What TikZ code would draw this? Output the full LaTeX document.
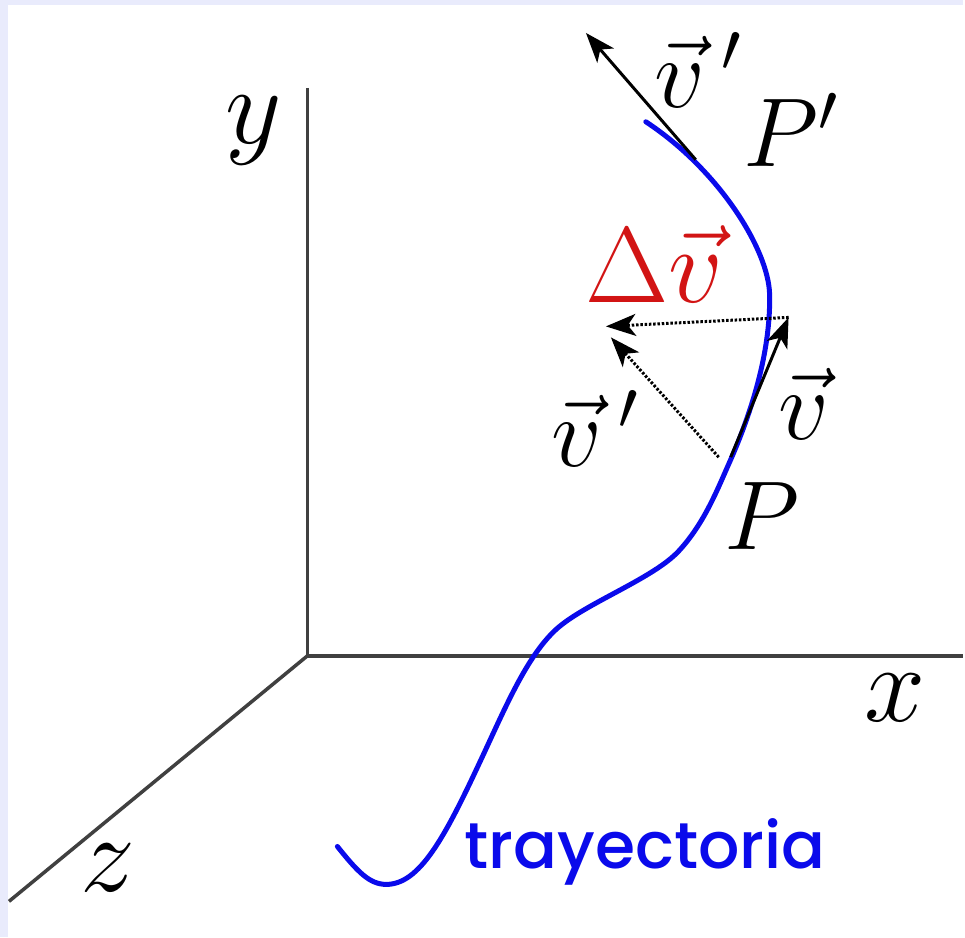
\RequirePackage{fix-cm}
\documentclass[tikz,border=0pt]{standalone}
\usepackage{amsmath}
\usepackage{fontspec}
\usepackage{tikz}
\usetikzlibrary{arrows.meta}
\usepackage{xcolor}
\newfontfamily\trayfont{Poppins}[UprightFont=* Medium]
\definecolor{marco}{RGB}{233,235,252}
\definecolor{rojo}{RGB}{210,20,20}
\definecolor{azul}{RGB}{10,10,235}

\begin{document}
\begin{tikzpicture}[x=1pt,y=-1pt,
  eje/.style={line width=3.5pt,black!75},
  tray/.style={line width=5pt,azul,line cap=round},
  vec/.style={line width=3pt,-{Stealth[length=30pt,width=22pt,inset=8pt]}},
  vecpunt/.style={vec,dash pattern=on 2.5pt off 1.8pt},
  etq/.style={inner sep=0pt,anchor=base west}]
% Marco
\fill[marco] (0,0) rectangle (965,939);
\fill[white] (8,5) rectangle (965,939);

% Ejes
\coordinate (O) at (308,657);
\coordinate (Y) at (308,88);
\coordinate (X) at (965,657);
\coordinate (Z) at (9,903);
\draw[eje] (Y) -- (O) -- (X);
\draw[eje] (O) -- (Z);
\node[etq] (ly) at (226,144) {\fontsize{110}{110}\selectfont$y$};
\node[etq] (lx) at (866,723) {\fontsize{110}{110}\selectfont$x$};
\node[etq] (lz) at (80,893) {\fontsize{110}{110}\selectfont$z$};

% Trayectoria
\draw[tray] (338,848) .. controls (358,873) and (370,886) .. (387,886)
  .. controls (420,886) and (445,840) .. (480,765)
  .. controls (505,712) and (528,655) .. (560,628)
  .. controls (590,603) and (655,579) .. (680,552)
  .. controls (705,525) and (718,492) .. (730,465)
  .. controls (760,398) and (772,340) .. (771,295)
  .. controls (770,250) and (720,170) .. (647,122);
\node[etq,text=azul] (ltray) at (465,870) {\fontsize{65}{65}\selectfont\trayfont trayectoria};

% Puntos y vectores
\coordinate (P) at (732,458);
\coordinate (Pq) at (720,458);
\coordinate (Pp) at (697,160);
\coordinate (A) at (790,318);
\coordinate (B) at (607,327);
\coordinate (Bq) at (612,338);
\coordinate (C) at (587,33);
\draw[vec] (P) -- (A);
\draw[vec] (Pp) -- (C);
\draw[vecpunt] (Pq) -- (Bq);
\draw[vecpunt] (A) -- (B);

% Etiquetas
\node[etq] (lP) at (726,550) {\fontsize{98}{98}\selectfont$P$};
\node[etq] (lPp) at (745,167) {\fontsize{98}{98}\selectfont$P'$};
\node[etq] (lv) at (780,440) {\fontsize{100}{100}\selectfont$\vec{v}$};
\node[etq] (lvp) at (552,467) {\fontsize{100}{100}\selectfont$\vec{v}\,'$};
\node[etq] (lvpp) at (655,108) {\fontsize{100}{100}\selectfont$\vec{v}\,'$};
\node[etq,text=rojo] (ldv) at (586,303) {\fontsize{108}{108}\selectfont$\Delta\vec{v}$};
\end{tikzpicture}
\end{document}
